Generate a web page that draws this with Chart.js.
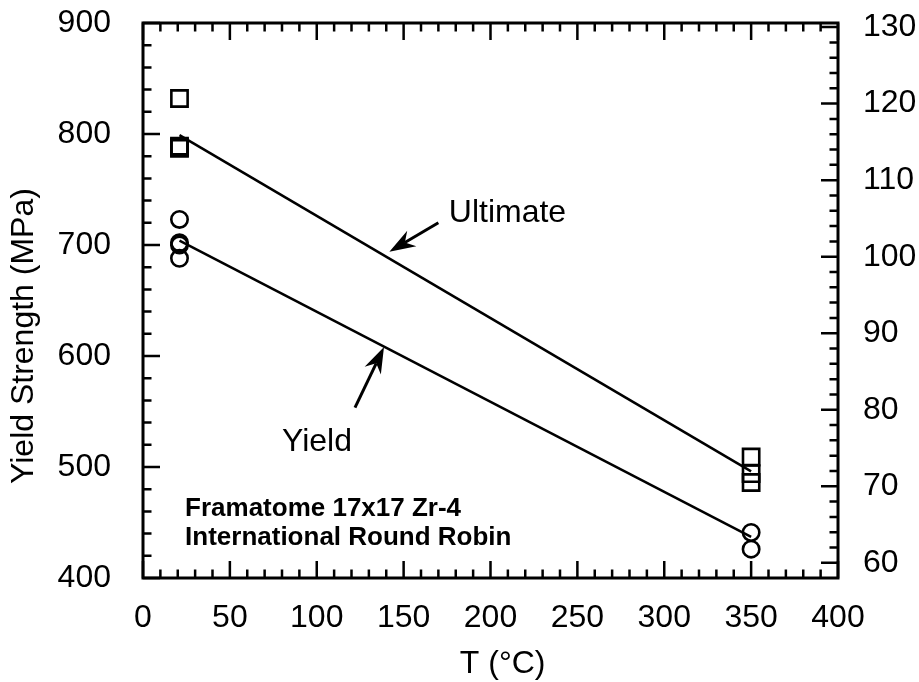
<!DOCTYPE html>
<html>
<head>
<meta charset="utf-8">
<title>Yield Strength vs T</title>
<script src="https://cdn.jsdelivr.net/npm/chart.js@4.4.1/dist/chart.umd.min.js"></script>
<style>
body{margin:0;background:#fff}
#wrap{width:919px;height:682px}
</style>
</head>
<body>
<div id="wrap"><canvas id="myChart" width="919" height="682"></canvas></div>
<script>
// temperaturas (°C) y resistencias (MPa)
let yieldT = [21, 21, 21, 21, 350, 350]
let yieldMPa = [723, 702, 700, 688, 441, 426]
let ultT = [21, 21, 21, 21, 350, 350, 350]
let ultMPa = [832, 789, 788, 787, 509, 494, 486]
// rectas de ajuste
let fitT = [21, 350]
let yieldFit = [704, 437]
let ultFit = [799, 496]
// marcas de los ejes
let tempTicks = [0, 50, 100, 150, 200, 250, 300, 350, 400]
let mpaTicks = [400, 500, 600, 700, 800, 900]
let ksiTicks = [60, 70, 80, 90, 100, 110, 120, 130]
const MPA_PER_KSI = 6.894757

const fuente = '"Liberation Sans", Arial, sans-serif'

// etiquetas y flechas (en unidades de los ejes)
let notas = [
    {texto: 'Ultimate', t: 176, mpa: 721},
    {texto: 'Yield', t: 80, mpa: 514}
]
let flechas = [
    {t0: 170, m0: 720, t1: 141.8, m1: 694},
    {t0: 122, m0: 553.5, t1: 138.7, m1: 608}
]
let leyenda = ['Framatome 17x17 Zr-4', 'International Round Robin']

let pares = (xs, ys) => xs.map((x, i) => ({x: x, y: ys[i]}))

function flecha(ctx, x0, y0, x1, y1) {
    let ang = Math.atan2(y1 - y0, x1 - x0)
    let largo = 26, ancho = 9, muesca = 18
    ctx.beginPath()
    ctx.moveTo(x0, y0)
    ctx.lineTo(x1 - Math.cos(ang) * muesca, y1 - Math.sin(ang) * muesca)
    ctx.stroke()
    ctx.save()
    ctx.translate(x1, y1)
    ctx.rotate(ang)
    ctx.beginPath()
    ctx.moveTo(0, 0)
    ctx.lineTo(-largo, -ancho)
    ctx.lineTo(-muesca, 0)
    ctx.lineTo(-largo, ancho)
    ctx.closePath()
    ctx.fill()
    ctx.restore()
}

const marco = {
    id: 'marco',
    afterDraw(chart) {
        const ctx = chart.ctx
        const a = chart.chartArea
        const sx = chart.scales.x, sy = chart.scales.y, sk = chart.scales.ksi
        ctx.save()
        ctx.strokeStyle = '#000'
        ctx.fillStyle = '#000'
        ctx.lineWidth = 2.5
        ctx.beginPath()
        // rayitas hacia dentro: abajo y arriba
        for (let t = tempTicks[0]; t <= tempTicks[tempTicks.length - 1]; t += 10) {
            let px = sx.getPixelForValue(t)
            let l = t % 50 == 0 ? 17 : 8.5
            ctx.moveTo(px, a.bottom); ctx.lineTo(px, a.bottom - l)
            ctx.moveTo(px, a.top); ctx.lineTo(px, a.top + l)
        }
        // izquierda MPa
        for (let m = mpaTicks[0]; m <= mpaTicks[mpaTicks.length - 1]; m += 20) {
            let py = sy.getPixelForValue(m)
            let l = m % 100 == 0 ? 17 : 8.5
            ctx.moveTo(a.left, py); ctx.lineTo(a.left + l, py)
        }
        // derecha ksi
        for (let k = ksiTicks[0]; k <= ksiTicks[ksiTicks.length - 1]; k += 2) {
            let py = sk.getPixelForValue(k)
            let l = k % 10 == 0 ? 17 : 8.5
            ctx.moveTo(a.right, py); ctx.lineTo(a.right - l, py)
        }
        ctx.stroke()
        ctx.lineWidth = 3
        ctx.strokeRect(a.left, a.top, a.right - a.left, a.bottom - a.top)

        // titulos de los ejes
        ctx.font = '32px ' + fuente
        ctx.textAlign = 'center'
        ctx.textBaseline = 'alphabetic'
        ctx.fillText('T (°C)', sx.getPixelForValue(207), 673)
        ctx.save()
        ctx.translate(33, sy.getPixelForValue(618))
        ctx.rotate(-Math.PI / 2)
        ctx.fillText('Yield Strength (MPa)', 0, 0)
        ctx.restore()

        // notas
        ctx.textAlign = 'left'
        notas.forEach(n => {
            ctx.fillText(n.texto, sx.getPixelForValue(n.t), sy.getPixelForValue(n.mpa))
        })
        ctx.lineWidth = 3
        flechas.forEach(f => {
            flecha(ctx, sx.getPixelForValue(f.t0), sy.getPixelForValue(f.m0),
                sx.getPixelForValue(f.t1), sy.getPixelForValue(f.m1))
        })
        ctx.font = 'bold 26px ' + fuente
        let bx = sx.getPixelForValue(24.2), by = sy.getPixelForValue(456)
        leyenda.forEach((linea, i) => ctx.fillText(linea, bx, by + i * 29.5))
        ctx.restore()
    }
}

const data = {
    datasets: [
        {
            type: 'line', label: 'Ultimate fit', data: pares(fitT, ultFit),
            borderColor: '#000', borderWidth: 2.5, pointRadius: 0, fill: false, tension: 0
        },
        {
            type: 'line', label: 'Yield fit', data: pares(fitT, yieldFit),
            borderColor: '#000', borderWidth: 2.5, pointRadius: 0, fill: false, tension: 0
        },
        {
            type: 'scatter', label: 'Ultimate', data: pares(ultT, ultMPa),
            pointStyle: 'rect', pointRadius: 11.5, borderColor: '#000',
            backgroundColor: 'rgba(0,0,0,0)', borderWidth: 2.6
        },
        {
            type: 'scatter', label: 'Yield', data: pares(yieldT, yieldMPa),
            pointStyle: 'circle', pointRadius: 8.2, borderColor: '#000',
            backgroundColor: 'rgba(0,0,0,0)', borderWidth: 2.6
        }
    ]
}

const tickFont = {family: fuente, size: 32}

// fija el tamaño de cada eje y quita el relleno que agrega Chart.js
let sinRelleno = s => { s.paddingTop = 0; s.paddingBottom = 0; s.paddingLeft = 0; s.paddingRight = 0 }

const config = {
    type: 'scatter',
    data: data,
    plugins: [marco],
    options: {
        responsive: false,
        animation: false,
        events: [],
        devicePixelRatio: 1,
        layout: {padding: {top: 23, left: 0, right: 0, bottom: 0}},
        plugins: {legend: {display: false}, tooltip: {enabled: false}},
        scales: {
            x: {
                type: 'linear', position: 'bottom', min: 0, max: 400,
                afterBuildTicks: s => { s.ticks = tempTicks.map(v => ({value: v})) },
                afterFit: s => { s.height = 104; sinRelleno(s) },
                grid: {display: false, drawTicks: false},
                border: {display: false},
                ticks: {color: '#000', font: tickFont, padding: 21, maxRotation: 0, autoSkip: false}
            },
            y: {
                type: 'linear', position: 'left', min: 400, max: 900,
                afterBuildTicks: s => { s.ticks = mpaTicks.map(v => ({value: v})) },
                afterFit: s => { s.width = 143; sinRelleno(s) },
                grid: {display: false, drawTicks: false},
                border: {display: false},
                ticks: {color: '#000', font: tickFont, padding: 32, autoSkip: false}
            },
            ksi: {
                type: 'linear', position: 'right',
                min: 400 / MPA_PER_KSI, max: 900 / MPA_PER_KSI,
                afterBuildTicks: s => { s.ticks = ksiTicks.map(v => ({value: v})) },
                afterFit: s => { s.width = 81; sinRelleno(s) },
                grid: {display: false, drawTicks: false},
                border: {display: false},
                ticks: {color: '#000', font: tickFont, padding: 25, autoSkip: false}
            }
        }
    }
}

var myChart = new Chart(document.getElementById('myChart'), config)
</script>
</body>
</html>
